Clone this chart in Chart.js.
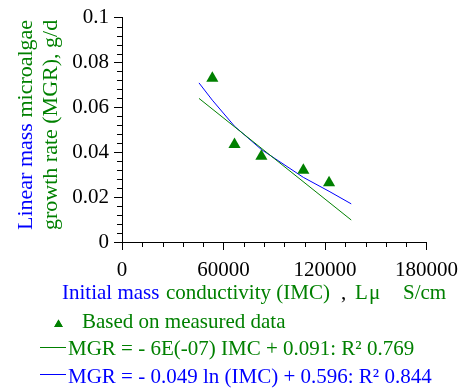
<!DOCTYPE html>
<html>
<head>
<meta charset="utf-8">
<script src="https://cdn.jsdelivr.net/npm/chart.js@4.4.1/dist/chart.umd.min.js"></script>
<style>
  html, body { margin: 0; padding: 0; background: #fff; }
  #wrap { width: 466px; height: 388px; position: relative; }
</style>
</head>
<body>
<div id="wrap"><canvas id="c"></canvas></div>
<script>
// measured points (IMC, µS/cm  vs  MGR, g/d)
const imcMeasured = [53400, 66500, 82400, 107200, 122400];
const mgrMeasured = [0.0730, 0.0434, 0.0382, 0.0320, 0.0264];

// linear trend line
const linX = [45500, 135500];
const linY = [0.0640, 0.0098];

// log trend line
const logX = [45500, 53400, 66500, 82400, 107200, 122400, 135500];
const logY = [0.0709, 0.0632, 0.0516, 0.0412, 0.0288, 0.0226, 0.0170];

const xTickLabels = ['0', '60000', '120000', '180000'];
const yTickLabels = ['0', '0.02', '0.04', '0.06', '0.08', '0.1'];

const SERIF = "'Liberation Serif', 'Times New Roman', serif";
const GREEN = '#008000';
const BLUE = '#0000ff';

const pts = (xs, ys) => xs.map((x, i) => ({ x, y: ys[i] }));

// minor ticks, axis titles and legend drawn on the canvas
const decor = {
  id: 'decor',
  afterDraw(chart) {
    const { ctx, scales: { x, y } } = chart;
    ctx.save();
    ctx.strokeStyle = '#000';
    ctx.lineWidth = 1;
    ctx.beginPath();
    for (let v = 12000; v < 180000; v += 12000) {
      if (v % 60000 === 0) continue;
      const px = Math.round(x.getPixelForValue(v)) + 0.5;
      ctx.moveTo(px, x.top); ctx.lineTo(px, x.top + 5);
    }
    for (let k = 1; k < 25; k++) {
      if (k % 5 === 0) continue;
      const py = Math.round(y.getPixelForValue(k * 0.004)) + 0.5;
      ctx.moveTo(y.right - 5, py); ctx.lineTo(y.right, py);
    }
    ctx.stroke();

    const run = (parts, size) => {
      ctx.font = size + 'px ' + SERIF;
      parts.forEach(([t, c, px, py]) => { ctx.fillStyle = c; ctx.fillText(t, px, py); });
    };
    ctx.textBaseline = 'alphabetic';
    ctx.textAlign = 'left';

    // x title
    run([
      ['Initial mass', BLUE, 62, 298.5],
      ['conductivity (IMC)', GREEN, 166, 298.5],
      [',', '#000', 341, 298.5],
      ['L', GREEN, 355, 298.5],
      ['\u03bc', GREEN, 369, 298.5],
      ['S/cm', GREEN, 403, 298.5]
    ], 21);

    // y title (two rotated lines)
    const vline = (parts, bx) => {
      ctx.save();
      ctx.translate(bx, 230);
      ctx.rotate(-Math.PI / 2);
      ctx.font = '22px ' + SERIF;
      let cx = 0;
      parts.forEach(([t, c]) => { ctx.fillStyle = c; ctx.fillText(t, cx, 0); cx += ctx.measureText(t).width; });
      ctx.restore();
    };
    vline([['Linear mass ', BLUE], ['microalgae', GREEN]], 31.5);
    vline([['growth rate (MGR), g/d', GREEN]], 57);

    // legend
    ctx.fillStyle = GREEN;
    Chart.helpers.drawPoint(ctx, { pointStyle: 'triangle', radius: 5, borderWidth: 0 }, 58.5, 324.5);
    ctx.fill();
    ctx.lineWidth = 1;
    ctx.strokeStyle = GREEN;
    ctx.beginPath(); ctx.moveTo(40, 347.5); ctx.lineTo(66, 347.5); ctx.stroke();
    ctx.strokeStyle = BLUE;
    ctx.beginPath(); ctx.moveTo(40, 374.5); ctx.lineTo(66, 374.5); ctx.stroke();
    const labels = chart.data.datasets.map(d => d.label);
    run([
      [labels[0], GREEN, 82, 327.5],
      [labels[1], GREEN, 68, 355],
      [labels[2], BLUE, 68, 382.5]
    ], 21);
    ctx.restore();
  }
};

new Chart(document.getElementById('c'), {
  type: 'scatter',
  data: {
    datasets: [
      { label: 'Based on measured data', data: pts(imcMeasured, mgrMeasured), pointStyle: 'triangle', pointRadius: 7, backgroundColor: GREEN, borderColor: GREEN, borderWidth: 0, order: 0 },
      { type: 'line', label: 'MGR = - 6E(-07) IMC + 0.091: R\u00b2 0.769', data: pts(linX, linY), borderColor: GREEN, borderWidth: 1, pointRadius: 0, fill: false, order: 1 },
      { type: 'line', label: 'MGR = - 0.049 ln (IMC) + 0.596: R\u00b2 0.844', data: pts(logX, logY), borderColor: BLUE, borderWidth: 1, pointRadius: 0, tension: 0, fill: false, order: 2 }
    ]
  },
  options: {
    responsive: true,
    maintainAspectRatio: false,
    animation: false,
    devicePixelRatio: 1,
    layout: { padding: { top: 17, right: 37, left: 0, bottom: 0 } },
    plugins: { legend: { display: false }, tooltip: { enabled: false } },
    scales: {
      x: {
        type: 'linear', min: 0, max: 180000,
        afterFit: (s) => { s.height = 146; },
        grid: { drawOnChartArea: false, tickLength: 8, color: '#000' },
        border: { color: '#000', width: 1 },
        ticks: {
          stepSize: 60000, color: '#000', padding: 8, maxRotation: 0,
          font: { family: SERIF, size: 21 },
          callback: (v) => xTickLabels[Math.round(v / 60000)]
        }
      },
      y: {
        type: 'linear', min: 0, max: 0.1,
        afterFit: (s) => { s.width = 122; },
        grid: { drawOnChartArea: false, tickLength: 8, color: '#000' },
        border: { color: '#000', width: 1 },
        ticks: {
          stepSize: 0.02, color: '#000', padding: 5,
          font: { family: SERIF, size: 21 },
          callback: (v) => yTickLabels[Math.round(v / 0.02)]
        }
      }
    }
  },
  plugins: [decor]
});
</script>
</body>
</html>
